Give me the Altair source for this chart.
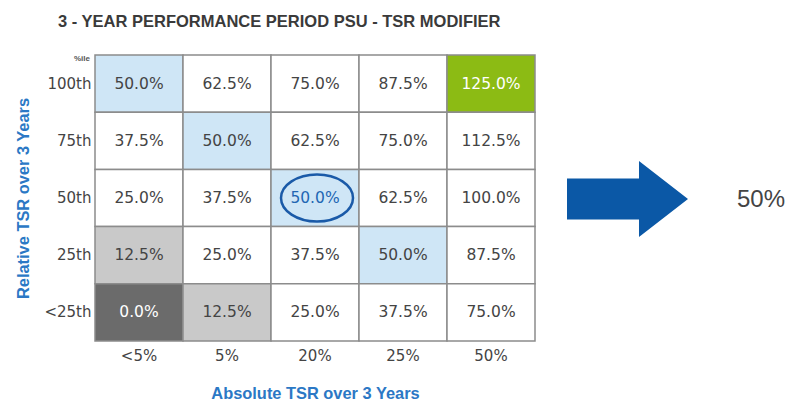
import altair as alt
import pandas as pd

chart_title = "3 - YEAR PERFORMANCE PERIOD PSU - TSR MODIFIER"
x_title = "Absolute TSR over 3 Years"
y_title = "Relative TSR over 3 Years"
x_categories = ["<5%", "5%", "20%", "25%", "50%"]
y_categories = ["100th", "75th", "50th", "25th", "<25th"]
modifier_values = [
    [50.0, 62.5, 75.0, 87.5, 125.0],
    [37.5, 50.0, 62.5, 75.0, 112.5],
    [25.0, 37.5, 50.0, 62.5, 100.0],
    [12.5, 25.0, 37.5, 50.0, 87.5],
    [0.0, 12.5, 25.0, 37.5, 75.0],
]
cell_shades = [
    ["target", "none", "none", "none", "max"],
    ["none", "target", "none", "none", "none"],
    ["none", "none", "actual", "none", "none"],
    ["low", "none", "none", "target", "none"],
    ["zero", "low", "none", "none", "none"],
]
result_label = "50%"
percentile_note = "%ile"

shade_domain = ["none", "target", "actual", "max", "low", "zero"]
fill_range = ["#ffffff", "#cfe6f6", "#cfe6f6", "#8cbb14", "#c9c9c9", "#6b6b6b"]
text_range = ["#444444", "#444444", "#2266b3", "#ffffff", "#444444", "#ffffff"]

rows = []
for i, yc in enumerate(y_categories):
    for j, xc in enumerate(x_categories):
        rows.append({
            "absolute": xc,
            "relative": yc,
            "value": modifier_values[i][j],
            "label": f"{modifier_values[i][j]:.1f}%",
            "shade": cell_shades[i][j],
        })
df = pd.DataFrame(rows)

x_enc = alt.X("absolute:N", sort=x_categories,
              scale=alt.Scale(paddingInner=0, paddingOuter=0),
              axis=alt.Axis(title=x_title, orient="bottom", labelAngle=0,
                            ticks=False, domain=False, labelPadding=14,
                            labelBaseline="middle",
                            labelFont="DejaVu Sans", labelFontSize=15,
                            labelColor="#444444",
                            titleFont="Liberation Sans", titleFontSize=16.4,
                            titleFontWeight="bold", titleColor="#2b78c5",
                            titlePadding=22))
y_enc = alt.Y("relative:N", sort=y_categories,
              scale=alt.Scale(paddingInner=0, paddingOuter=0),
              axis=alt.Axis(title=y_title, ticks=False, domain=False,
                            labelPadding=4, labelFont="DejaVu Sans",
                            labelFontSize=15, labelColor="#444444",
                            titleFont="Liberation Sans", titleFontSize=16.4,
                            titleFontWeight="bold", titleColor="#2b78c5",
                            titlePadding=12))

base = alt.Chart(df)

cells = base.mark_rect(stroke="#8c8c8c", strokeWidth=1.5).encode(
    x=x_enc, y=y_enc,
    fill=alt.Fill("shade:N", scale=alt.Scale(domain=shade_domain, range=fill_range), legend=None),
)

texts = base.mark_text(font="DejaVu Sans", fontSize=15.5).encode(
    x=alt.X("absolute:N", sort=x_categories),
    y=alt.Y("relative:N", sort=y_categories),
    text="label:N",
    color=alt.Color("shade:N", scale=alt.Scale(domain=shade_domain, range=text_range), legend=None),
)

k = 0.5523
r = 0.653
ellipse_path = (
    f"M-1,0 C-1,{-r*k:.4f} {-k},{-r} 0,{-r} C{k},{-r} 1,{-r*k:.4f} 1,0 "
    f"C1,{r*k:.4f} {k},{r} 0,{r} C{-k},{r} -1,{r*k:.4f} -1,0 Z"
)
ellipse = base.transform_filter(alt.datum.shade == "actual").mark_point(
    shape=ellipse_path, size=5184, filled=False, stroke="#1a5aa8",
    strokeWidth=2.5, opacity=1, xOffset=2,
).encode(
    x=alt.X("absolute:N", sort=x_categories),
    y=alt.Y("relative:N", sort=y_categories),
)

note = alt.Chart(pd.DataFrame({"note": [percentile_note]})).mark_text(
    align="right", baseline="middle", font="Liberation Sans", fontSize=8,
    fontWeight="bold", color="#555555",
).encode(x=alt.value(-5), y=alt.value(4), text="note:N")

arrow_path = "M-1,-0.34 L0.19,-0.34 L0.19,-0.63 L1,0 L0.19,0.63 L0.19,0.34 L-1,0.34 Z"
result_df = pd.DataFrame({"result": [result_label]})
arrow = alt.Chart(result_df).mark_point(
    shape=arrow_path, size=14641, filled=True, fill="#0b58a6",
    strokeWidth=0, opacity=1,
).encode(x=alt.value(532.5), y=alt.value(144))

result_text = alt.Chart(result_df).mark_text(
    font="Liberation Sans", fontSize=24, color="#444444", baseline="middle",
).encode(x=alt.value(666), y=alt.value(145), text="result:N")

chart = alt.layer(cells, texts, ellipse, note, arrow, result_text).properties(
    width=440, height=286,
    title=alt.TitleParams(chart_title, font="Liberation Sans", fontSize=16.5,
                          fontWeight="bold", color="#3a3a3a", anchor="start",
                          frame="group", dx=-37, offset=24),
    autosize=alt.AutoSizeParams(type="none"),
    padding={"left": 87, "top": 47, "right": 253, "bottom": 60},
).configure_view(stroke=None)

chart.save("out.html", embed_options={"renderer": "svg", "actions": False})
